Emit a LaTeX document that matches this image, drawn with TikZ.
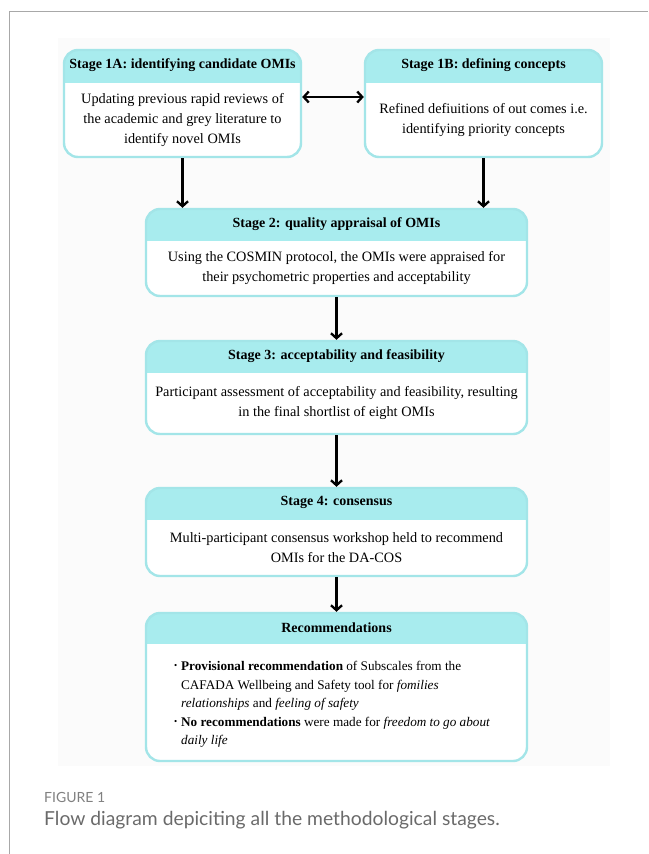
\documentclass[tikz,border=0pt]{standalone}
\usepackage{fontspec}
\setmainfont{Liberation Serif}
\newfontfamily\capfont{Lato}
\usetikzlibrary{arrows.meta, positioning}
\definecolor{headcyan}{HTML}{A8ECEE}
\definecolor{boxcyan}{HTML}{A3E5E8}
\definecolor{framegray}{HTML}{A8A8A8}
\definecolor{capgray}{HTML}{6A6A6A}
\tikzset{%
  stagebox/.style={draw=boxcyan, line width=2.4pt, rounded corners=14pt, fill=white, inner sep=0pt,
    path picture={\fill[headcyan, sharp corners] (path picture bounding box.north west) rectangle ([yshift=-#1]path picture bounding box.north east);}},
  stagebox/.default=32pt,
  titletext/.style={font=\fontsize{14}{17}\selectfont\bfseries, inner sep=0pt},
  bodytext/.style={font=\fontsize{14.3}{20}\selectfont, align=center, inner sep=0pt},
  listtext/.style={font=\fontsize{13.2}{18.5}\selectfont, align=left, inner sep=0pt},
  flowline/.style={draw, line width=2.3pt, -{Straight Barb[length=5pt, width=11pt]}},
  bothline/.style={draw, line width=2.3pt, {Straight Barb[length=5pt, width=11pt]}-{Straight Barb[length=5pt, width=11pt]}},
  capsmall/.style={font=\capfont\fontsize{14}{16}\selectfont, text=capgray!85, inner sep=0pt, anchor=west},
  caplarge/.style={font=\capfont\fontsize{19.3}{22}\selectfont, text=capgray, inner sep=0pt, anchor=west}}
\newcommand{\recbullet}{\raisebox{1.8pt}{\fontsize{9}{9}\selectfont\textbullet}}
\begin{document}
\begin{tikzpicture}[x=1pt, y=-1pt]
  \useasboundingbox (0,0) rectangle (648,854);
  \fill[black!1.5] (58,38) rectangle (610,766);
  \draw[framegray, line width=1pt] (9,854) -- (9,11) -- (648,11);

  % stage 1A and 1B side by side
  \node [stagebox=33pt, minimum width=237pt, minimum height=107pt] (s1a) at (182.5,103.5) {};
  \node [stagebox=33pt, minimum width=237pt, minimum height=107pt] (s1b) at (483.5,103.5) {};
  \node [titletext] (s1a-title) at ([yshift=-16.5pt]s1a.north) {Stage 1A: identifying candidate OMIs};
  \node [titletext] (s1b-title) at ([yshift=-16.5pt]s1b.north) {Stage 1B: defining concepts};
  \node [bodytext] (s1a-body) at ([yshift=-16.5pt]s1a.center) {Updating previous rapid reviews of\\the academic and grey literature to\\identify novel OMIs};
  \node [bodytext] (s1b-body) at ([yshift=-16.5pt]s1b.center) {Refined defiuitions of out comes i.e.\\identifying priority concepts};

  \foreach \n/\ypos/\hgt/\ttl/\txt in {%
    s2/252.5/87/{Stage 2: quality appraisal of OMIs}/{Using the COSMIN protocol, the OMIs were appraised for\\their psychometric properties and acceptability},
    s3/387.5/93/{Stage 3: acceptability and feasibility}/{Participant assessment of acceptability and feasibility, resulting\\in the final shortlist of eight OMIs},
    s4/532/88/{Stage 4: consensus}/{Multi-participant consensus workshop held to recommend\\OMIs for the DA-COS}} {
    \node [stagebox, minimum width=381pt, minimum height=\hgt pt] (\n) at (336.5,\ypos) {};
    \node [titletext] (\n-title) at ([yshift=-16pt]\n.north) {\ttl};
    \node [bodytext] (\n-body) at ([yshift=-16pt]\n.center) {\txt};
  }

  % recommendations
  \node [stagebox=31pt, minimum width=381pt, minimum height=148pt] (rec) at (336.5,687) {};
  \node [titletext] (rec-title) at ([yshift=-15.5pt]rec.north) {Recommendations};
  \node [listtext, anchor=west] (rec-list) at ([xshift=29pt, yshift=-17pt]rec.west) {%
    \begin{tabular}{@{}l@{\hspace{4pt}}l@{}}
      \recbullet & \textbf{Provisional recommendation} of Subscales from the\\
       & CAFADA Wellbeing and Safety tool for \textit{fomilies}\\
       & \textit{relationships} and \textit{feeling of safety}\\
      \recbullet & \textbf{No recommendations} were made for \textit{freedom to go about}\\
       & \textit{daily life}
    \end{tabular}};

  \draw [bothline] ([yshift=6.5pt]s1a.east) -- ([yshift=6.5pt]s1b.west);
  \draw [flowline] (s1a.south) -- (s1a.south |- s2.north);
  \draw [flowline] (s1b.south) -- (s1b.south |- s2.north);
  \draw [flowline] (s2) -- (s3);
  \draw [flowline] (s3) -- (s4);
  \draw [flowline] (s4) -- (rec);

  \node [capsmall] (fig-label) at (44,797) {FIGURE 1};
  \node [caplarge] (fig-caption) at (44,820) {Flow diagram depiciting all the methodological stages.};
\end{tikzpicture}
\end{document}
